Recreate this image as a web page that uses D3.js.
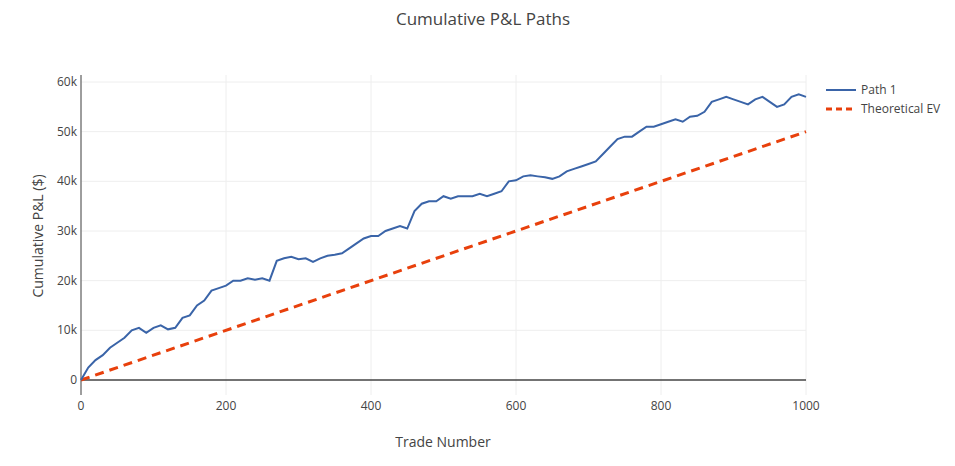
<!DOCTYPE html><html><head><meta charset="utf-8"><script src="https://cdn.jsdelivr.net/npm/d3@7"></script>
<style>body{margin:0;background:#fff}text{font-family:"Open Sans",Arial,sans-serif}</style></head><body><svg id="c" width="955" height="466"></svg><script>
const trades=d3.range(0,1001,10);
const pathK=[0,2.5,4,5,6.5,7.5,8.5,10,10.5,9.5,10.5,11,10.2,10.5,12.5,13,15,16,18,18.5,19,20,20,20.5,20.2,20.5,20,24,24.5,24.8,24.3,24.5,23.8,24.5,25,25.2,25.5,26.5,27.5,28.5,29,29,30,30.5,31,30.5,34,35.5,36,36,37,36.5,37,37,37,37.5,37,37.5,38,40,40.2,41,41.2,41,40.8,40.5,41,42,42.5,43,43.5,44,45.5,47,48.5,49,49,50,51,51,51.5,52,52.5,52,53,53.2,54,56,56.5,57,56.5,56,55.5,56.5,57,56,55,55.5,57,57.5,57];
const evPts=[[0,0],[1000,50000]];
const yTicks=[0,10000,20000,30000,40000,50000,60000];
const xTicks=[0,200,400,600,800,1000];
const svg=d3.select("#c");
const x=d3.scaleLinear().domain([0,1000]).range([81,806]);
const y=d3.scaleLinear().domain([0,60000]).range([380,82]);
const pTop=75,pBot=395;
svg.selectAll(".gx").data(xTicks).join("line").attr("x1",d=>x(d)).attr("x2",d=>x(d)).attr("y1",pTop).attr("y2",pBot).attr("stroke","#eee");
svg.selectAll(".gy").data(yTicks).join("line").attr("x1",81).attr("x2",806).attr("y1",d=>y(d)).attr("y2",d=>y(d)).attr("stroke",d=>d===0?"#444":"#eee").attr("stroke-width",d=>d===0?1.5:1);
svg.append("line").attr("x1",81).attr("x2",81).attr("y1",pTop).attr("y2",pBot).attr("stroke","#444");
svg.selectAll(".xt").data(xTicks).join("text").attr("x",d=>x(d)).attr("y",410).attr("text-anchor","middle").attr("font-size",12).attr("fill","#444").text(d=>d);
svg.selectAll(".yt").data(yTicks).join("text").attr("x",77).attr("y",d=>y(d)+4).attr("text-anchor","end").attr("font-size",12).attr("fill","#444").text(d=>d===0?"0":d/1000+"k");
const ln=d3.line().x(d=>x(d[0])).y(d=>y(d[1]));
svg.append("path").datum(evPts).attr("d",ln).attr("fill","none").attr("stroke","#e8400c").attr("stroke-width",3).attr("stroke-dasharray","9,6");
svg.append("path").datum(trades.map((t,i)=>[t,pathK[i]*1000])).attr("d",ln).attr("fill","none").attr("stroke","#3a64a8").attr("stroke-width",2);
svg.append("text").attr("x",483).attr("y",25).attr("text-anchor","middle").attr("font-size",17).attr("fill","#444").text("Cumulative P&L Paths");
svg.append("text").attr("x",443).attr("y",447).attr("text-anchor","middle").attr("font-size",14).attr("fill","#444").text("Trade Number");
svg.append("text").attr("transform","translate(43,236) rotate(-90)").attr("text-anchor","middle").attr("font-size",14).attr("fill","#444").text("Cumulative P&L ($)");
const lg=[{n:"Path 1",c:"#3a64a8",d:null,w:2},{n:"Theoretical EV",c:"#e8400c",d:"6,4",w:3}];
lg.forEach((l,i)=>{const yy=90+i*19;svg.append("line").attr("x1",826).attr("x2",856).attr("y1",yy).attr("y2",yy).attr("stroke",l.c).attr("stroke-width",l.w).attr("stroke-dasharray",l.d);
svg.append("text").attr("x",861).attr("y",yy+4).attr("font-size",12).attr("fill","#444").text(l.n);});
</script></body></html>
